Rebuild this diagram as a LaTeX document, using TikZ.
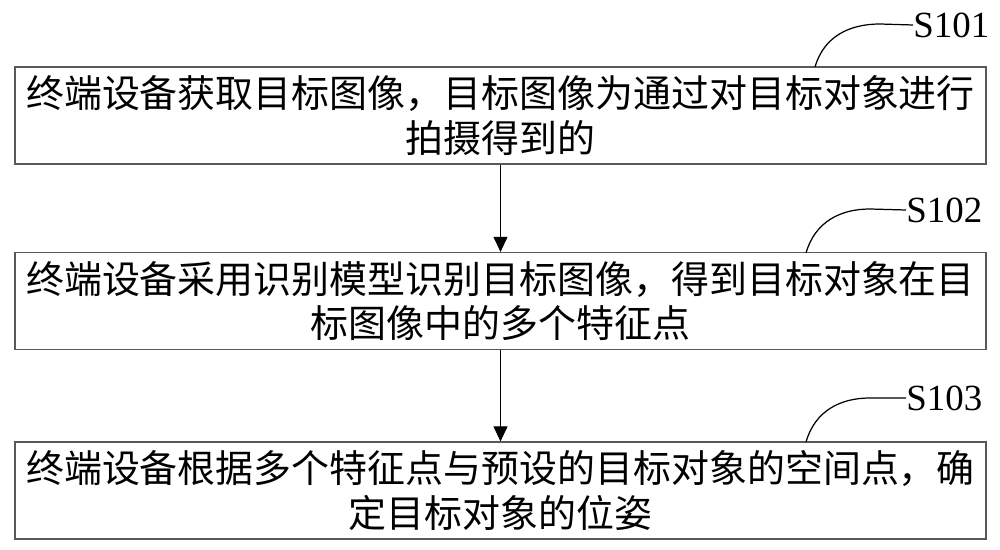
\documentclass[tikz,border=0pt]{standalone}
\usepackage{fontspec}
\setmainfont{Liberation Serif}
\newfontfamily\cjk{Noto Sans CJK SC}
\usetikzlibrary{arrows.meta}
\tikzset{
  stepbox/.style={draw=black!65,line width=0.7pt,minimum width=19.42cm,minimum height=1.94cm,
    align=center,inner sep=0pt,font=\cjk\fontsize{21.6}{25.5}\selectfont},
  steplabel/.style={anchor=west,inner sep=0pt,font=\fontsize{21}{24}\selectfont},
  flow/.style={line width=0.6pt,-{Triangle[width=0.28cm,length=0.3cm]}},
  lead/.style={line width=0.7pt}
}
\begin{document}
\begin{tikzpicture}[x=0.02cm,y=-0.02cm]
  \useasboundingbox (0,0) rectangle (1000,550);
  \node[stepbox] (s1) at (500.5,115.5) {终端设备获取目标图像，目标图像为通过对目标对象进行\\拍摄得到的};
  \node[stepbox] (s2) at (500.5,301) {终端设备采用识别模型识别目标图像，得到目标对象在目\\标图像中的多个特征点};
  \node[stepbox] (s3) at (500.5,490.5) {终端设备根据多个特征点与预设的目标对象的空间点，确\\定目标对象的位姿};
  \draw[flow] (s1) -- (s2);
  \draw[flow] (s2) -- (s3);

  \node[steplabel] (l1) at (913,25) {S101};
  \node[steplabel] (l2) at (906,210) {S102};
  \node[steplabel] (l3) at (906,398) {S103};
  \coordinate (c1) at (815,67);
  \coordinate (c2) at (806,253);
  \coordinate (c3) at (806,442);
  \draw[lead] (c1) .. controls (824,36) and (850,24) .. (880,24) -- (l1.west);
  \draw[lead] (c2) .. controls (815,222) and (840,209) .. (870,209) -- (l2.west);
  \draw[lead] (c3) .. controls (815,411) and (840,398) .. (870,398) -- (l3.west);
\end{tikzpicture}
\end{document}
